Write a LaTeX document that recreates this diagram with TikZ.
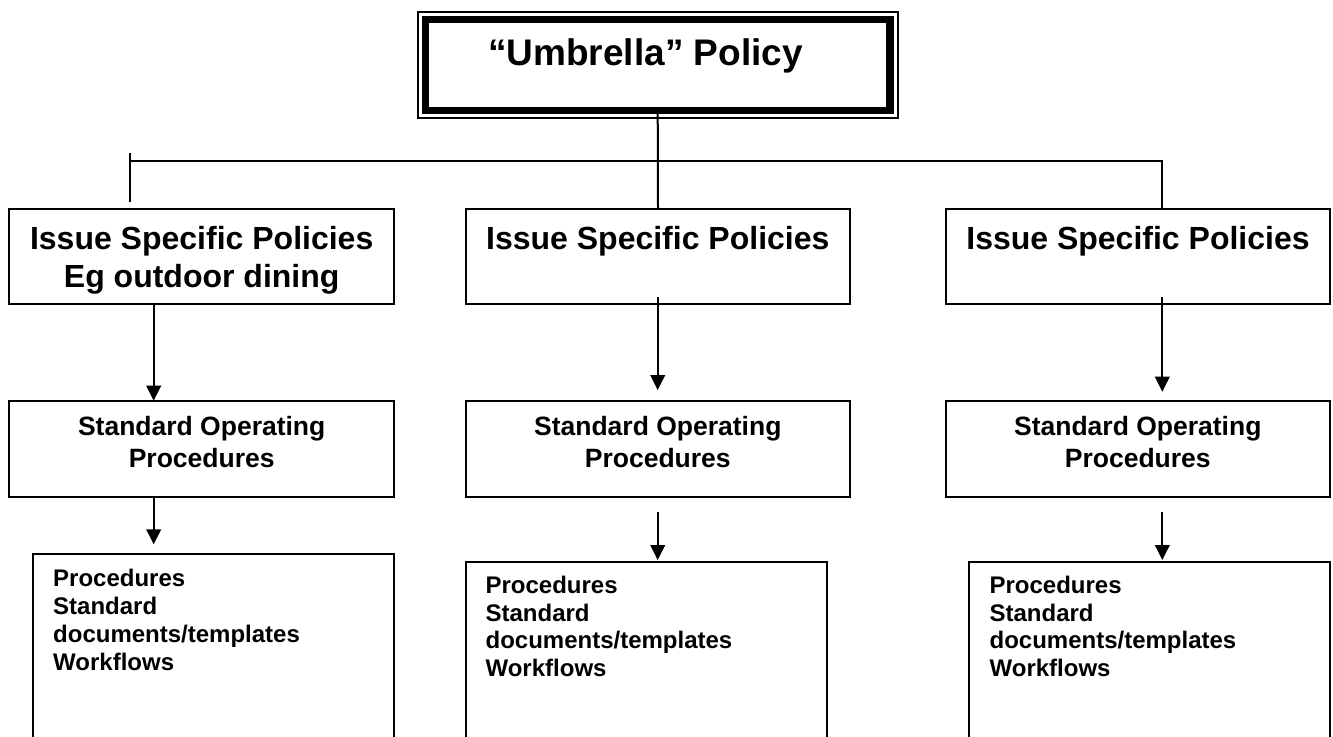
\documentclass[tikz,border=0pt]{standalone}
\usepackage{fontspec}
\setmainfont{Liberation Sans}
\usetikzlibrary{arrows.meta}

\begin{document}
\begin{tikzpicture}[x=0.5pt,y=-0.5pt,
  box/.style={draw, line width=1.1pt, inner sep=0pt, outer sep=0pt, anchor=north west},
  umbbox/.style={draw, line width=3.8pt, inner sep=0pt, outer sep=0pt, minimum width=232.3pt, minimum height=45.5pt},
  polbox/.style={box, minimum width=192.3pt, minimum height=47.65pt},
  sopbox/.style={box, minimum width=192.3pt, minimum height=48pt},
  docbox/.style={box, minimum width=180.5pt, minimum height=120pt},
  umbtext/.style={anchor=base, inner sep=0pt, font=\bfseries\fontsize{18.5}{22}\selectfont},
  poltext/.style={anchor=base, align=center, inner sep=0pt, font=\bfseries\fontsize{16}{18.85}\selectfont},
  soptext/.style={anchor=base, align=center, inner sep=0pt, font=\bfseries\fontsize{13.25}{16.25}\selectfont},
  doctext/.style={anchor=base west, align=left, inner sep=0pt, font=\bfseries\fontsize{12}{13.9}\selectfont},
  arr/.style={line width=1pt, -{Triangle[length=7.5pt,width=7.3pt]}}]
% the page itself; the lowest boxes run off its bottom edge
\path[use as bounding box, clip] (0,0) rectangle (1333,736);
% the umbrella policy: a heavy frame inside a thin one
\node[umbbox] (umb) at (657.7,65) {};
\draw[line width=1pt] ([shift={(-3.9pt,3.6pt)}]umb.north west) rectangle ([shift={(3.9pt,-3.6pt)}]umb.south east);
\node[umbtext] (umbtxt) at (645.5,65) {“Umbrella” Policy};
% the three issue specific policies
% (a node of several lines sits on the baseline of its last line)
\node[polbox] (isp1) at (9,209) {};
\node[polbox] (isp2) at (465.7,209) {};
\node[polbox] (isp3) at (945.7,209) {};
\node[poltext] (isp1txt) at (201.7,287) {Issue Specific Policies\\Eg outdoor dining};
\node[poltext] (isp2txt) at (657.8,249.5) {Issue Specific Policies};
\node[poltext] (isp3txt) at (1138,249.5) {Issue Specific Policies};
% standard operating procedures under each of them
\node[sopbox] (sop1) at (9,400.7) {};
\node[sopbox] (sop2) at (465.7,400.7) {};
\node[sopbox] (sop3) at (945.7,400.7) {};
\foreach \i/\x in {1/201.7,2/657.8,3/1137.8}
  \node[soptext] (sop\i txt) at (\x,467.5) {Standard Operating\\Procedures};
% and the documents under those (open at the bottom)
\node[docbox] (doc1) at (33,554.3) {};
\node[docbox] (doc2) at (465.7,561.7) {};
\node[docbox] (doc3) at (969.3,561.7) {};
\node[doctext] (doc1txt) at (52.8,670.1) {Procedures\\Standard\\documents/templates\\Workflows};
\node[doctext] (doc2txt) at (485.2,676.7) {Procedures\\Standard\\documents/templates\\Workflows};
\node[doctext] (doc3txt) at (989.2,676.7) {Procedures\\Standard\\documents/templates\\Workflows};
% the branching lines from the umbrella down to the policies
\coordinate (tl) at (129.7,153);
\coordinate (hl) at (129.7,160.7);
\coordinate (hr) at (1161.7,160.7);
\draw[line width=1pt] (umb.south) -- (isp2.north);
\draw[line width=1pt] (hl) -- (hr) -- (hr |- isp3.north);
\draw[line width=1pt, shorten >=3.65pt] (tl) -- (tl |- isp1.north);
% the arrows down each column
\coordinate (c1) at (153.7,0);
\coordinate (c2) at (657.7,0);
\coordinate (c3) at (1162.3,0);
\draw[arr] (c1 |- isp1.south) -- (c1 |- sop1.north);
\draw[arr, shorten <=-3.8pt, shorten >=5.35pt] (c2 |- isp2.south) -- (c2 |- sop2.north);
\draw[arr, shorten <=-3.8pt, shorten >=4.5pt] (c3 |- isp3.south) -- (c3 |- sop3.north);
\draw[arr, shorten >=5pt] (c1 |- sop1.south) -- (c1 |- doc1.north);
\draw[arr, shorten <=7.8pt, shorten >=0.85pt] (c2 |- sop2.south) -- (c2 |- doc2.north);
\draw[arr, shorten <=7.8pt, shorten >=0.85pt] (c3 |- sop3.south) -- (c3 |- doc3.north);
\end{tikzpicture}
\end{document}
